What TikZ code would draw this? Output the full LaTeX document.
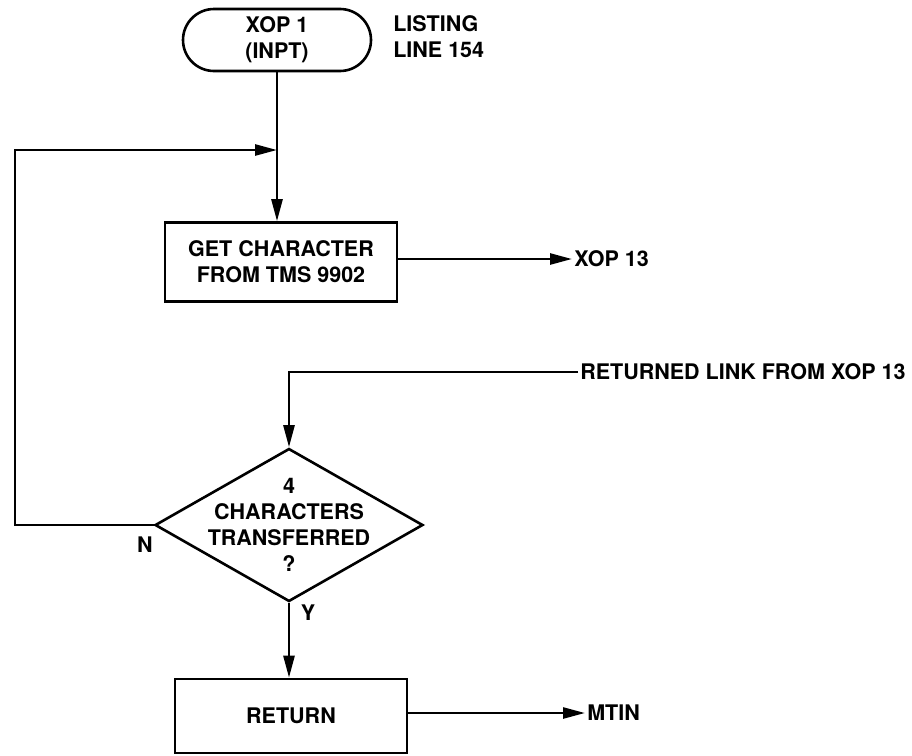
\documentclass[tikz,border=0pt]{standalone}
\usepackage{fontspec}
\setmainfont{TeX Gyre Heros}
\usetikzlibrary{arrows.meta,positioning,shapes.geometric}

\begin{document}
\begin{tikzpicture}[
        x=1pt, y=-1pt,
        font=\fontsize{21.5}{26}\selectfont\bfseries,
        every path/.style={line width=2.6pt},
        flow/.style={-{Triangle[length=22pt,width=11pt]}},
        term/.style={draw, rectangle, rounded corners=31pt, minimum width=188pt, minimum height=62pt, align=center},
        proc/.style={draw, rectangle, minimum width=232pt, align=center},
        decision/.style={draw, diamond, minimum width=268pt, minimum height=153pt, inner sep=0pt},
        lbl/.style={inner sep=1pt, align=left}
    ]
        \useasboundingbox (0,0) rectangle (912,755);

        \node[term] (start) at (277,40) {XOP 1\\(INPT)};
        \node[lbl, anchor=west] (listing) at (391,37) {LISTING\\LINE 154};

        \node[proc, minimum height=79pt] (getchar) at (281,262) {GET CHARACTER\\FROM TMS 9902};
        \node[lbl, anchor=west] (xop) at (572,259) {XOP 13};

        \node[lbl, anchor=west] (link) at (578,372) {RETURNED LINK FROM XOP 13};

        \node[decision] (check) at (289,525) {};
        \node[align=center] (checktxt) at (check.center) {4\\CHARACTERS\\TRANSFERRED\\?};
        \node[lbl] (no) at (145,545) {N};
        \node[lbl] (yes) at (308,613) {Y};

        \node[proc, minimum height=74pt] (ret) at (291,716) {RETURN};
        \node[lbl, anchor=west] (mtin) at (585,713) {MTIN};

        \coordinate (loop) at (15,150);

        \draw[flow] (start.south) -- (start.south |- getchar.north);
        \draw[flow] (getchar.east |- xop.west) -- (xop.west);
        \draw[flow] (link.west) -- (check.north |- link.west) -- (check.north);
        \draw[flow] (check.west) -- (check.west -| loop) -- (loop) -- (loop -| start.south);
        \draw[flow] (check.south) -- (check.south |- ret.north);
        \draw[flow] (ret.east |- mtin.west) -- (mtin.west);
    \end{tikzpicture}
\end{document}
